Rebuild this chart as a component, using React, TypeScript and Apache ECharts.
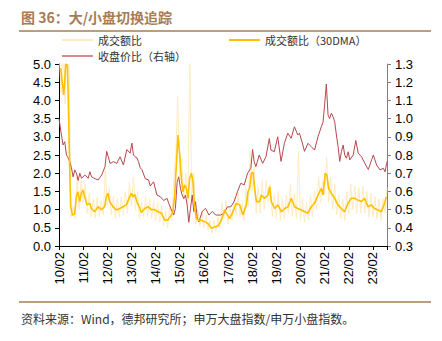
import React, { useEffect, useRef } from "react";
import * as echarts from "echarts";

// x values are months since 2010-02
const yearTicks = ["10/02", "11/02", "12/02", "13/02", "14/02", "15/02", "16/02", "17/02", "18/02", "19/02", "20/02", "21/02", "22/02", "23/02"];

// 成交额比 (daily, sampled monthly)
const dailyY = [
  5.5, 4.2, 5.5, 3.9, 5.5, 5.2, 0.8, 1.1, 0.75, 1.9,
  1.0, 1.8, 1.2, 1.7, 0.9, 1.45, 0.8, 1.3, 0.75, 1.35,
  0.8, 1.25, 0.85, 2.1, 1.1, 1.6, 0.85, 1.35, 0.75, 1.3,
  0.8, 1.35, 0.85, 1.5, 0.9, 1.75, 1.1, 1.9, 1.0, 1.5,
  0.75, 1.2, 0.8, 1.35, 0.8, 1.3, 0.75, 1.25, 0.7, 1.2,
  0.65, 1.1, 0.55, 0.95, 0.5, 1.1, 0.7, 1.8, 2.5, 4.1,
  1.9, 2.4, 1.3, 2.0, 1.1, 5.1, 1.4, 2.0, 0.6, 1.0,
  0.55, 0.95, 0.5, 0.85, 0.45, 0.7, 0.35, 0.7, 0.4, 0.8,
  0.5, 1.2, 0.75, 1.25, 0.6, 1.05, 0.7, 1.35, 0.85, 1.5,
  0.8, 1.2, 0.7, 1.6, 1.1, 2.6, 1.5, 2.2, 0.9, 1.6,
  0.9, 1.8, 1.0, 1.8, 1.2, 1.7, 0.8, 1.4, 0.75, 1.5,
  0.7, 1.3, 0.75, 1.4, 0.9, 1.7, 0.8, 1.45, 0.75, 2.6,
  0.7, 1.3, 0.65, 1.2, 0.7, 1.4, 0.8, 1.5, 1.0, 1.9,
  1.2, 1.8, 1.4, 2.45, 1.2, 1.9, 1.0, 1.7, 0.85, 1.4,
  0.75, 1.3, 0.7, 1.5, 0.9, 1.7, 1.0, 1.65, 0.9, 1.6,
  0.9, 1.65, 0.9, 1.5, 0.8, 1.45, 0.8, 1.35, 0.75, 1.3,
  0.7, 1.3, 0.9, 1.6,
];

// 成交额比（30DMA）
const maX = [
  0.85, 1.7, 2.3, 2.8, 3.3, 4.2, 4.8, 5.3, 5.8, 6.7,
  7.8, 8.6, 9.4, 10.3, 11.1, 11.9, 12.8, 13.9, 15.3, 16.1,
  17.7, 19.4, 21.1, 22.7, 23.5, 24.3, 25.2, 26.8, 28.5, 30.2,
  31.8, 33.5, 35.1, 36.0, 36.8, 37.6, 38.7, 40.1, 40.9, 42.6,
  44.2, 45.9, 47.5, 49.2, 50.9, 52.5, 54.1, 55.8, 56.6, 57.5,
  58.3, 59.1, 60.0, 60.8, 61.6, 62.4, 63.3, 64.1, 64.9, 65.8,
  66.6, 67.4, 68.3, 69.1, 70.7, 72.4, 74.0, 75.7, 77.3, 79.0,
  80.7, 82.3, 83.1, 84.8, 86.4, 88.1, 89.8, 91.4, 93.1, 93.9,
  94.7, 95.6, 96.4, 97.2, 98.1, 99.7, 100.5, 102.2, 103.8, 104.7,
  105.5, 107.2, 108.8, 110.5, 112.1, 113.8, 115.4, 117.1, 118.7, 120.4,
  122.1, 123.7, 125.4, 127.0, 128.7, 130.4, 131.2, 132.3, 133.1, 134.0,
  135.3, 137.0, 138.6, 140.3, 141.9, 143.6, 145.3, 146.9, 148.5, 150.2,
  151.9, 153.5, 155.2, 156.8, 158.5, 160.2, 161.8, 162.6,
];
const maY = [
  4.88, 4.47, 4.15, 4.47, 5.0, 4.97, 3.55, 2.18, 1.08, 0.85,
  0.88, 1.35, 1.49, 1.22, 1.45, 1.54, 1.35, 1.13, 1.17, 1.03,
  0.94, 1.08, 1.0, 1.08, 1.35, 1.45, 1.22, 1.08, 0.99, 1.03,
  1.08, 1.13, 1.35, 1.45, 1.35, 1.42, 1.22, 1.05, 0.92, 1.03,
  1.08, 1.0, 1.0, 0.94, 0.9, 0.71, 0.71, 0.85, 0.94, 1.4,
  2.22, 3.05, 2.5, 1.86, 1.49, 1.68, 1.58, 1.31, 1.86, 2.0,
  1.77, 1.03, 0.76, 0.71, 0.71, 0.67, 0.62, 0.49, 0.52, 0.55,
  0.71, 0.99, 0.9, 0.76, 0.94, 1.17, 1.13, 0.85, 1.13, 1.49,
  1.58, 2.0, 2.03, 1.58, 1.22, 1.22, 1.4, 1.31, 1.4, 1.63,
  1.22, 1.03, 1.13, 0.94, 1.03, 1.08, 1.31, 1.08, 1.03, 0.99,
  0.94, 0.9, 1.08, 1.17, 1.4, 1.58, 1.4, 2.0, 1.95, 1.58,
  1.45, 1.31, 1.13, 1.03, 0.94, 1.17, 1.31, 1.31, 1.26, 1.22,
  1.31, 1.08, 1.13, 1.03, 0.99, 0.94, 1.17, 1.35,
];

// 收盘价比（右轴）
const redX = [
  0, 1.2, 2.0, 2.85, 3.7, 4.5, 5.35, 6.2, 7.0, 7.85,
  8.7, 9.5, 10.35, 11.2, 12.85, 14.5, 15.35, 16.2, 17.85, 19.5,
  21.2, 22.85, 23.7, 24.5, 25.35, 27.0, 28.7, 30.35, 32.0, 33.7,
  35.35, 36.2, 37.0, 37.85, 38.7, 39.5, 40.35, 41.2, 42.85, 44.5,
  45.35, 47.0, 48.7, 50.35, 52.0, 53.7, 54.5, 56.2, 57.0, 57.85,
  58.7, 59.5, 60.35, 61.2, 62.0, 62.85, 63.7, 64.5, 65.35, 66.2,
  67.0, 67.85, 68.7, 69.5, 71.2, 72.85, 74.5, 76.2, 77.85, 79.0,
  80.35, 82.0, 83.7, 85.35, 87.0, 88.7, 90.35, 92.0, 93.7, 95.35,
  96.2, 97.0, 97.85, 99.5, 101.2, 102.85, 104.5, 105.35, 107.0, 108.7,
  110.35, 112.0, 113.7, 115.35, 117.0, 118.7, 119.5, 121.2, 122.0, 123.7,
  125.35, 127.0, 128.7, 130.35, 131.2, 132.0, 132.85, 133.7, 134.5, 135.35,
  136.2, 137.0, 137.85, 138.7, 139.5, 140.35, 141.2, 142.0, 142.85, 143.7,
  144.5, 146.2, 147.5, 148.7, 150.35, 152.0, 153.7, 155.35, 156.2, 157.85,
  159.5, 161.2, 162.0, 162.85, 163.0,
];
const redY = [
  1.0, 0.91, 0.855, 0.873, 0.8, 0.785, 0.763, 0.73, 0.68, 0.718,
  0.7, 0.66, 0.7, 0.672, 0.69, 0.672, 0.708, 0.68, 0.67, 0.663,
  0.69, 0.735, 0.82, 0.79, 0.754, 0.763, 0.754, 0.79, 0.745, 0.83,
  0.81, 0.865, 0.8, 0.79, 0.785, 0.763, 0.73, 0.72, 0.67, 0.663,
  0.63, 0.653, 0.58, 0.571, 0.55, 0.562, 0.535, 0.49, 0.47, 0.507,
  0.65, 0.68, 0.617, 0.58, 0.56, 0.58, 0.525, 0.43, 0.507, 0.58,
  0.49, 0.543, 0.452, 0.433, 0.49, 0.507, 0.47, 0.49, 0.47, 0.47,
  0.47, 0.48, 0.515, 0.515, 0.543, 0.6, 0.645, 0.635, 0.7, 0.727,
  0.83, 0.763, 0.736, 0.8, 0.754, 0.79, 0.89, 0.827, 0.818, 0.9,
  0.765, 0.864, 0.92, 0.892, 0.955, 0.91, 0.92, 0.855, 0.82, 0.864,
  0.846, 0.827, 0.9, 0.955, 0.98, 1.075, 1.19, 1.02, 1.0, 1.03,
  1.01, 0.983, 0.91, 0.846, 0.765, 0.818, 0.855, 0.8, 0.782, 0.818,
  0.773, 0.8, 0.88, 0.81, 0.79, 0.754, 0.72, 0.773, 0.8, 0.745,
  0.718, 0.727, 0.708, 0.754, 0.765,
];

const seriesNames = ["成交额比", "成交额比（30DMA）", "收盘价比（右轴）"];
const titleText = "图 36：大/小盘切换追踪";
const sourceText = "资料来源：Wind，德邦研究所；申万大盘指数/申万小盘指数。";

const CJK = "Noto Sans CJK SC";
const NUM = "Liberation Sans";
const BROWN = "#A67C55";
const LIGHT = "#FFEBC2";
const GOLD = "#FFC000";
const RED = "#B8474D";

export default function App() {
  const ref = useRef<HTMLDivElement>(null);
  useEffect(() => {
    document.body.style.margin = "0";
    const chart = echarts.init(ref.current!, undefined, { renderer: "svg" });
    const legendBase = {
      icon: "rect",
      itemWidth: 31,
      itemHeight: 2,
      textStyle: { fontSize: 11, lineHeight: 12, color: "#333", fontFamily: CJK },
      padding: 0,
    };
    chart.setOption({
      animation: false,
      backgroundColor: "#fff",
      grid: { left: 59, right: 55, top: 64, bottom: 95, containLabel: false },
      legend: [
        { ...legendBase, data: [seriesNames[0]], left: 62, top: 34 },
        { ...legendBase, data: [seriesNames[1]], left: 229, top: 34 },
        { ...legendBase, data: [seriesNames[2]], left: 62, top: 50 },
      ],
      xAxis: {
        type: "value",
        min: 0,
        max: 163,
        interval: 12,
        axisLine: { show: true, onZero: false, lineStyle: { color: "#000", width: 1 } },
        axisTick: { show: true, length: 4, lineStyle: { color: "#000" } },
        splitLine: { show: false },
        axisLabel: {
          rotate: 90,
          margin: 6,
          fontSize: 13,
          color: "#000",
          fontFamily: NUM,
          formatter: (v: number) => (v % 12 === 0 ? yearTicks[v / 12] ?? "" : ""),
        },
      },
      yAxis: [
        {
          type: "value",
          min: 0,
          max: 5,
          interval: 0.5,
          axisLine: { show: true, lineStyle: { color: "#000" } },
          axisTick: { show: true, length: 4, lineStyle: { color: "#000" } },
          splitLine: { show: false },
          axisLabel: { fontSize: 13, color: "#000", fontFamily: NUM, margin: 8, formatter: (v: number) => v.toFixed(1) },
        },
        {
          type: "value",
          min: 0.3,
          max: 1.3,
          interval: 0.1,
          position: "right",
          axisLine: { show: true, lineStyle: { color: "#808080" } },
          axisTick: { show: true, length: 4, lineStyle: { color: "#808080" } },
          splitLine: { show: false },
          axisLabel: { fontSize: 13, color: "#000", fontFamily: NUM, margin: 8, formatter: (v: number) => v.toFixed(1) },
        },
      ],
      series: [
        {
          name: seriesNames[0],
          type: "line",
          symbol: "none",
          yAxisIndex: 0,
          data: dailyY.map((v, i) => [i, v]),
          lineStyle: { color: LIGHT, width: 1 },
          itemStyle: { color: LIGHT },
          z: 1,
        },
        {
          name: seriesNames[1],
          type: "line",
          symbol: "none",
          yAxisIndex: 0,
          data: maX.map((x, i) => [x, maY[i]]),
          lineStyle: { color: GOLD, width: 1.6 },
          itemStyle: { color: GOLD },
          z: 3,
        },
        {
          name: seriesNames[2],
          type: "line",
          symbol: "none",
          yAxisIndex: 1,
          data: redX.map((x, i) => [x, redY[i]]),
          lineStyle: { color: RED, width: 1 },
          itemStyle: { color: "#D98A8C" },
          z: 2,
        },
      ],
      graphic: [
        {
          type: "text",
          left: 21,
          top: 10,
          style: { text: titleText, fill: BROWN, fontSize: 14, fontWeight: "bold", fontFamily: CJK },
        },
        { type: "line", shape: { x1: 19, y1: 31, x2: 431, y2: 31 }, style: { stroke: BROWN, lineWidth: 1.5 } },
        { type: "line", shape: { x1: 19, y1: 302, x2: 431, y2: 302 }, style: { stroke: BROWN, lineWidth: 1.5 } },
        {
          type: "text",
          left: 21,
          top: 312,
          style: { text: sourceText, fill: "#333", fontSize: 12, fontFamily: CJK },
        },
      ],
    });
    return () => chart.dispose();
  }, []);
  return <div ref={ref} style={{ width: 442, height: 341 }} />;
}
